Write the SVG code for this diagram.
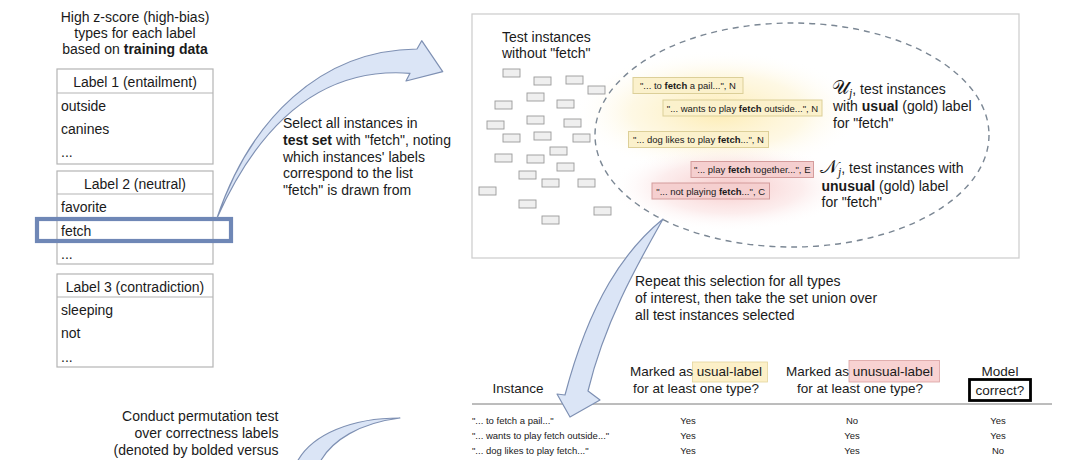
<svg xmlns="http://www.w3.org/2000/svg" width="1080" height="460" viewBox="0 0 1080 460">
<defs>
<style>
text{font-family:"Liberation Sans",Arial,sans-serif;fill:#1a1a1a}
.t14{font-size:14px}
.t135{font-size:13.5px}
.snip{font-size:9.5px;text-anchor:middle}
.row{font-size:9.5px}
.c{text-anchor:middle}
.b{font-weight:bold}
.box{fill:#fff;stroke:#b4b4b4;stroke-width:1.2}
.div{stroke:#b4b4b4;stroke-width:1.2}
.sm{fill:#efefef;stroke:#9a9a9a;stroke-width:0.9}
.yel{fill:#fbf1cc;stroke:#dccf98;stroke-width:1}
.red{fill:#f5cfcf;stroke:#d49c9c;stroke-width:1}
.arrow{fill:#dbe5f6;stroke:#7e90b3;stroke-width:1.2;stroke-linejoin:round}
.cal{font-family:"DejaVu Serif","Noto Sans",serif;font-size:19px;font-weight:normal}
.sub{font-family:"Liberation Serif",serif;font-style:italic;font-size:12px}
</style>
<radialGradient id="gy" cx="0.5" cy="0.5" r="0.5">
<stop offset="0" stop-color="#fde9a6" stop-opacity="0.85"/>
<stop offset="0.6" stop-color="#fdf0c4" stop-opacity="0.45"/>
<stop offset="1" stop-color="#fff" stop-opacity="0"/>
</radialGradient>
<radialGradient id="gr" cx="0.5" cy="0.5" r="0.5">
<stop offset="0" stop-color="#f4b9b9" stop-opacity="0.8"/>
<stop offset="0.6" stop-color="#f8d2d2" stop-opacity="0.4"/>
<stop offset="1" stop-color="#fff" stop-opacity="0"/>
</radialGradient>
<rect id="sr" width="17" height="8" class="sm"/>
</defs>
<rect width="1080" height="460" fill="#fff"/>

<g id="node-heading">
<text class="t14 c" x="135" y="21.5">High z-score (high-bias)</text>
<text class="t14 c" x="135" y="37.5">types for each label</text>
<text class="t14 c" x="135" y="54">based on <tspan class="b">training data</tspan></text>
</g>

<g id="node-label1">
<rect class="box" x="57" y="69" width="156" height="95"/>
<line class="div" x1="57" y1="93" x2="213" y2="93"/>
<text class="t14 c" x="135" y="87">Label 1 (entailment)</text>
<text class="t14" x="61" y="111">outside</text>
<text class="t14" x="61" y="134">canines</text>
<text class="t14" x="61" y="157">...</text>
</g>

<g id="node-label2">
<rect class="box" x="57" y="171" width="156" height="93"/>
<line class="div" x1="57" y1="194" x2="213" y2="194"/>
<text class="t14 c" x="135" y="189">Label 2 (neutral)</text>
<text class="t14" x="61" y="212">favorite</text>
<text class="t14" x="61" y="235.5">fetch</text>
<text class="t14" x="61" y="259">...</text>
</g>

<g id="node-label3">
<rect class="box" x="57" y="274" width="156" height="93"/>
<line class="div" x1="57" y1="297" x2="213" y2="297"/>
<text class="t14 c" x="135" y="291.5">Label 3 (contradiction)</text>
<text class="t14" x="61" y="315">sleeping</text>
<text class="t14" x="61" y="338">not</text>
<text class="t14" x="61" y="362">...</text>
</g>

<g id="node-fetch-highlight">
<rect x="37" y="219" width="194" height="22" fill="none" stroke="#6f87b6" stroke-width="4.2"/>
</g>

<g id="node-select-text">
<text class="t14" x="283" y="128">Select all instances in</text>
<text class="t14" x="283" y="145"><tspan class="b">test set</tspan> with "fetch", noting</text>
<text class="t14" x="283" y="161.5">which instances' labels</text>
<text class="t14" x="283" y="178">correspond to the list</text>
<text class="t14" x="283" y="194.5">"fetch" is drawn from</text>
</g>

<g id="node-test-box">
<rect x="472" y="14" width="547" height="244" fill="#fff" stroke="#cfcfcf" stroke-width="1.3"/>
<ellipse cx="718" cy="112" rx="145" ry="62" fill="url(#gy)"/>
<ellipse cx="730" cy="187" rx="120" ry="44" fill="url(#gr)"/>
<text class="t14" x="502" y="42">Test instances</text>
<text class="t14" x="502" y="57.5">without "fetch"</text>
<use href="#sr" x="503" y="69"/><use href="#sr" x="534" y="77"/><use href="#sr" x="566" y="76"/>
<use href="#sr" x="588" y="86"/><use href="#sr" x="527" y="93"/><use href="#sr" x="495" y="101"/>
<use href="#sr" x="557" y="100"/><use href="#sr" x="527" y="116"/><use href="#sr" x="487" y="121"/>
<use href="#sr" x="564" y="119"/><use href="#sr" x="503" y="134"/><use href="#sr" x="534" y="132"/>
<use href="#sr" x="573" y="134"/><use href="#sr" x="550" y="147"/><use href="#sr" x="495" y="154"/>
<use href="#sr" x="527" y="155"/><use href="#sr" x="557" y="163"/><use href="#sr" x="519" y="171"/>
<use href="#sr" x="542" y="179"/><use href="#sr" x="578" y="179"/><use href="#sr" x="479" y="187"/>
<use href="#sr" x="519" y="200"/><use href="#sr" x="594" y="207"/><use href="#sr" x="542" y="216"/>
</g>

<g id="node-fetch-set">
<ellipse cx="792" cy="135" rx="197" ry="112" fill="none" stroke="#7b8794" stroke-width="1.4" stroke-dasharray="6 5"/>
</g>

<g id="node-snip1"><rect class="yel" x="633" y="77.5" width="110" height="16"/><text class="snip" x="688" y="88.8">"... to <tspan class="b">fetch</tspan> a pail...", N</text></g>
<g id="node-snip2"><rect class="yel" x="663" y="100" width="159" height="16"/><text class="snip" x="742.5" y="111.5">"... wants to play <tspan class="b">fetch</tspan> outside...", N</text></g>
<g id="node-snip3"><rect class="yel" x="628.5" y="131.5" width="140" height="16"/><text class="snip" x="698.5" y="143">"... dog likes to play <tspan class="b">fetch</tspan>...", N</text></g>
<g id="node-snip4"><rect class="red" x="691" y="161.5" width="122.5" height="16"/><text class="snip" x="752.2" y="173">"... play <tspan class="b">fetch</tspan> together...", E</text></g>
<g id="node-snip5"><rect class="red" x="652" y="183" width="117.5" height="16"/><text class="snip" x="710.7" y="194.5">"... not playing <tspan class="b">fetch</tspan>...", C</text></g>

<g id="node-usual">
<text class="t14" x="832" y="94"><tspan class="cal">𝒰</tspan><tspan class="sub" dy="3">j</tspan><tspan dy="-3">, test instances</tspan></text>
<text class="t14" x="833" y="111">with <tspan class="b">usual</tspan> (gold) label</text>
<text class="t14" x="833" y="127.5">for "fetch"</text>
</g>

<g id="node-unusual">
<text class="t14" x="820" y="173"><tspan class="cal">𝒩</tspan><tspan class="sub" dy="3">j</tspan><tspan dy="-3">, test instances with</tspan></text>
<text class="t14" x="821.5" y="190.5"><tspan class="b">unusual</tspan> (gold) label</text>
<text class="t14" x="821.5" y="206.5">for "fetch"</text>
</g>

<g id="node-repeat-text">
<text class="t14" x="635" y="286">Repeat this selection for all types</text>
<text class="t14" x="635" y="303">of interest, then take the set union over</text>
<text class="t14" x="635" y="320">all test instances selected</text>
</g>

<g id="node-table">
<rect x="692.5" y="362" width="75" height="20" fill="#fcf0c8" stroke="#e3d49c" stroke-width="0.8"/>
<rect x="849" y="360.5" width="90.5" height="21.5" fill="#f8d2d2" stroke="#d9a0a0" stroke-width="0.8"/>
<rect x="969.5" y="379.5" width="61" height="21" fill="none" stroke="#000" stroke-width="2.8"/>
<text class="t135 c" x="518" y="392.5">Instance</text>
<text class="t135 c" x="696" y="376">Marked as usual-label</text>
<text class="t135 c" x="696" y="392.5">for at least one type?</text>
<text class="t135 c" x="859.5" y="376">Marked as unusual-label</text>
<text class="t135 c" x="860" y="392.5">for at least one type?</text>
<text class="t135 c" x="1000" y="376">Model</text>
<text class="t135 c" x="1000" y="394.5">correct?</text>
<line x1="472" y1="404" x2="1052" y2="404" stroke="#7a7a7a" stroke-width="1"/>
<text class="row" x="472" y="424">"... to fetch a pail..."</text>
<text class="row" x="472" y="439">"... wants to play fetch outside..."</text>
<text class="row" x="472" y="454">"... dog likes to play fetch..."</text>
<text class="row c" x="688" y="424">Yes</text><text class="row c" x="688" y="439">Yes</text><text class="row c" x="688" y="454">Yes</text>
<text class="row c" x="852" y="424">No</text><text class="row c" x="852" y="439">Yes</text><text class="row c" x="852" y="454">Yes</text>
<text class="row c" x="998" y="424">Yes</text><text class="row c" x="998" y="439">Yes</text><text class="row c" x="998" y="454">No</text>
</g>

<g id="node-permutation-text">
<text class="t14" text-anchor="end" x="278.5" y="420.5">Conduct permutation test</text>
<text class="t14" text-anchor="end" x="278.5" y="438">over correctness labels</text>
<text class="t14" text-anchor="end" x="278.5" y="455">(denoted by bolded versus</text>
</g>

<g id="connectors">
<path class="arrow" d="M217,218 C250,120 320,50 417,49 L421.7,40.7 L442.7,71.7 L406,81 L410,73.3 C340,68 270,100 217,218 Z"/>
<path class="arrow" d="M663,219 C625,250 590,300 565,395 L557,394 L570,417 L600,400 L588,391 C605,320 640,260 663,219 Z"/>
<path class="arrow" d="M400,418 C352,418 312,434 297,462 L320,462 C332,440 360,423 400,418 Z"/>
</g>
</svg>
